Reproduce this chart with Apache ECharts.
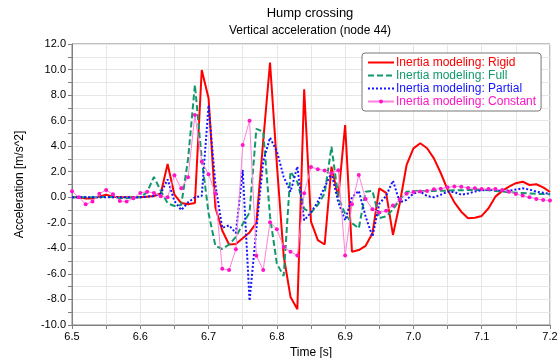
<!DOCTYPE html>
<html>
<head>
<meta charset="utf-8">
<script src="https://cdn.jsdelivr.net/npm/echarts@6/dist/echarts.min.js"></script>
<style>
  html, body { margin: 0; padding: 0; background: #fff; }
  #chart { width: 560px; height: 358px; }
</style>
</head>
<body>
<div id="chart"></div>
<script>
// sample times [s], one every 10 ms
const times = [
  6.50, 6.51, 6.52, 6.53, 6.54, 6.55, 6.56, 6.57, 6.58, 6.59,
  6.60, 6.61, 6.62, 6.63, 6.64, 6.65, 6.66, 6.67, 6.68, 6.69,
  6.70, 6.71, 6.72, 6.73, 6.74, 6.75, 6.76, 6.77, 6.78, 6.79,
  6.80, 6.81, 6.82, 6.83, 6.84, 6.85, 6.86, 6.87, 6.88, 6.89,
  6.90, 6.91, 6.92, 6.93, 6.94, 6.95, 6.96, 6.97, 6.98, 6.99,
  7.00, 7.01, 7.02, 7.03, 7.04, 7.05, 7.06, 7.07, 7.08, 7.09,
  7.10, 7.11, 7.12, 7.13, 7.14, 7.15, 7.16, 7.17, 7.18, 7.19,
  7.20
];

const rigid = [
  0, 0, -0.1, -0.1, 0.05, 0.2, 0.05, 0, 0, 0,
  0, 0.05, 0.1, 0.3, 2.6, 0.2, -0.45, -0.55, -0.45, 9.97,
  7.75, -0.8, -2.6, -3.7, -3.65, -3.2, -2.75, -2.0, 4.4, 10.55,
  2.6, -4.6, -7.8, -8.77, 8.46, -1.9, -3.35, -3.7, 2.4, 0.0,
  5.66, -4.26, -4.13, -3.8, -2.82, 0.7, 0.35, -2.95, -0.47, 2.53,
  3.83, 4.23, 3.84, 3.05, 1.9, 0.6, -0.4, -1.13, -1.64, -1.6,
  -1.46, -0.86, 0.05, 0.5, 0.83, 1.1, 1.22, 0.96, 1.02, 0.78,
  0.41
];

const full = [
  0, 0, 0, 0, 0, 0.05, 0, -0.05, -0.05, 0,
  0, 0.4, 1.6, 0.5, -0.47, -0.68, -0.6, 3.0, 8.8, 3.0,
  -1.25, -3.8, -4.05, -3.7, -3.1, -2.1, -1.2, 5.35, 5.14, -1.5,
  -5.2, -6.16, 2.0, 1.2, -0.9, -1.2, -0.6, 0.3, 3.96, 0.0,
  -1.3, -2.03, -2.43, 0.44, 0.5, -1.64, -1.5, -0.95, -0.2, 0.44,
  0.48, 0.5, 0.5, 0.5, 0.52, 0.52, 0.55, 0.55, 0.57, 0.57,
  0.57, 0.55, 0.5, 0.45, 0.4, 0.36, 0.33, 0.3, 0.27, 0.25,
  0.23
];

const partial = [
  0, 0, 0, 0, 0, 0, 0, 0, 0, 0,
  0, 0.05, 0.1, 0.3, 1.4, -0.3, -1.0, -0.4, 0, 0.1,
  7.2, 1.0, -2.4, -2.2, -2.8, 2.14, -8.1, -2.5, 2.8, 4.67,
  3.6, 1.6, 0.44, 2.4, -1.8, -1.2, -0.35, 0.8, 1.9, -0.4,
  -1.8, 0.0, 0.5, -1.5, -3.08, -0.5, 0.1, 1.3, -0.4, -0.2,
  0.3, 0.44, 0.1, 0.0, 0.2, 0.44, 0.4, 0.2, 0.3, 0.45,
  0.55, 0.57, 0.56, 0.54, 0.52, 0.6, 0.7, 0.6, 0.44, 0.35,
  0.26
];

const constant = [
  0.47, 0.0, -0.55, -0.34, 0.28, 0.57, 0.23, -0.29, -0.34, -0.08,
  0.34, 0.44, 0.34, 0.08, 0.0, 1.72, 0.7, 1.57, 6.44, 2.79,
  1.8, 0.3, -5.6, -5.7, -4.07, 4.1, 6.0, -4.57, -5.7, -1.95,
  -2.5, -3.9, -4.27, -4.55, 0.31, 2.37, 2.2, 2.1, 1.88, 2.11,
  -4.56, -0.54, 1.75, -0.13, -0.94, -1.2, -1.05, -0.65, -0.15, 0.28,
  0.42, 0.45, 0.5, 0.63, 0.66, 0.78, 0.85, 0.83, 0.73, 0.7,
  0.65, 0.65, 0.65, 0.57, 0.44, 0.26, 0.13, 0.0, -0.13, -0.21,
  -0.26
];

const names = [
  'Inertia modeling: Rigid',
  'Inertia modeling: Full',
  'Inertia modeling: Partial',
  'Inertia modeling: Constant'
];
const colors = ['#ff0000', '#12996b', '#1414ff', '#ff14c8'];

const pairs = (vals) => vals.map((v, i) => [times[i], v]);

const chart = echarts.init(document.getElementById('chart'));
const fontFamily = '"Liberation Sans", Arial, sans-serif';

chart.setOption({
  animation: false,
  textStyle: { fontFamily: fontFamily },
  title: {
    text: 'Hump crossing',
    subtext: 'Vertical acceleration (node 44)',
    left: 305,
    top: 2,
    textAlign: 'center',
    itemGap: 5,
    textStyle: { fontSize: 13, fontWeight: 'normal', color: '#000', fontFamily: fontFamily },
    subtextStyle: { fontSize: 12, color: '#000', fontFamily: fontFamily }
  },
  legend: {
    orient: 'vertical',
    left: 362,
    top: 53,
    padding: [3, 5, 3, 5],
    itemWidth: 26,
    itemHeight: 5,
    itemGap: 0,
    borderColor: '#777',
    borderWidth: 1,
    borderRadius: 3,
    backgroundColor: '#fff',
    data: names.map((n, i) => ({
      name: n,
      textStyle: { color: colors[i] },
      itemStyle: i < 3 ? { opacity: 0 } : undefined
    })),
    textStyle: { fontSize: 12, lineHeight: 13, fontFamily: fontFamily, padding: [0, 0, 0, -3] }
  },
  grid: {
    left: 72, right: 10, top: 44, bottom: 33,
    outerBoundsMode: 'none',
    show: true, borderColor: '#808080', borderWidth: 1
  },
  xAxis: {
    type: 'value',
    min: 6.5, max: 7.2, interval: 0.1,
    name: 'Time [s]',
    nameLocation: 'middle',
    nameGap: 20,
    nameTextStyle: { fontSize: 12, color: '#000' },
    axisLine: { onZero: false, lineStyle: { color: '#808080' } },
    axisTick: { show: true, length: 4, lineStyle: { color: '#808080' } },
    minorTick: { show: true, splitNumber: 2, length: 4, lineStyle: { color: '#808080' } },
    splitLine: { show: true, lineStyle: { color: '#e6e6e6' } },
    minorSplitLine: { show: true, lineStyle: { color: '#e6e6e6' } },
    axisLabel: { fontSize: 11, color: '#000', margin: 6, formatter: (v) => v.toFixed(1) }
  },
  yAxis: {
    type: 'value',
    min: -10, max: 12, interval: 2,
    name: 'Acceleration [m/s^2]',
    nameLocation: 'middle',
    nameGap: 46,
    nameTextStyle: { fontSize: 12, color: '#000' },
    axisLine: { show: true, onZero: false, lineStyle: { color: '#808080' } },
    axisTick: { show: true, length: 4, lineStyle: { color: '#808080' } },
    minorTick: { show: true, splitNumber: 2, length: 4, lineStyle: { color: '#808080' } },
    splitLine: { show: true, lineStyle: { color: '#e6e6e6' } },
    minorSplitLine: { show: true, lineStyle: { color: '#e6e6e6' } },
    axisLabel: { fontSize: 11, color: '#000', margin: 6, formatter: (v) => v.toFixed(1) }
  },
  series: [
    {
      name: names[0], type: 'line', data: pairs(rigid),
      showSymbol: false, symbol: 'none',
      lineStyle: { color: colors[0], width: 2 },
      itemStyle: { color: colors[0] }
    },
    {
      name: names[1], type: 'line', data: pairs(full),
      showSymbol: false, symbol: 'none',
      lineStyle: { color: colors[1], width: 2, type: [6, 3] },
      itemStyle: { color: colors[1] }
    },
    {
      name: names[2], type: 'line', data: pairs(partial),
      showSymbol: false, symbol: 'none',
      lineStyle: { color: colors[2], width: 2, type: [2, 2] },
      itemStyle: { color: colors[2] }
    },
    {
      name: names[3], type: 'line', data: pairs(constant),
      symbol: 'circle', symbolSize: 4,
      lineStyle: { color: '#ff80da', width: 1 },
      itemStyle: { color: colors[3] }
    }
  ]
});
</script>
</body>
</html>
